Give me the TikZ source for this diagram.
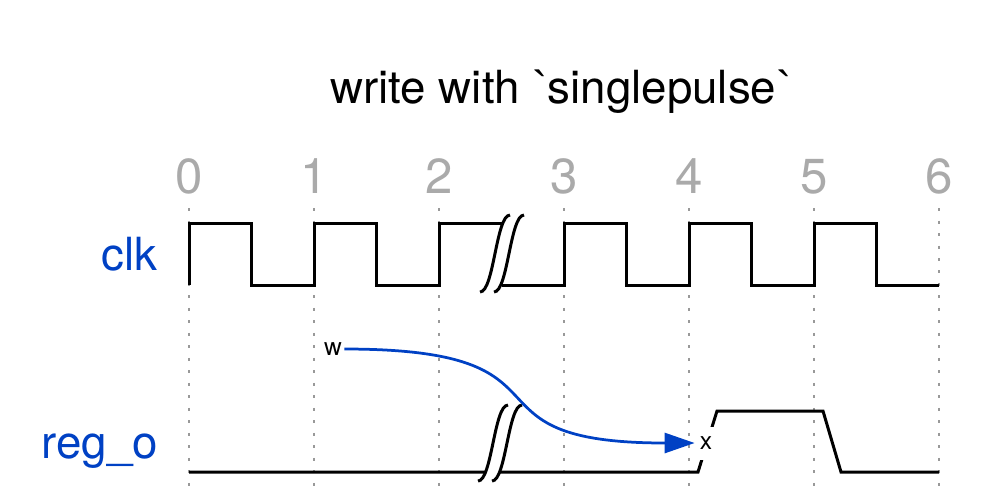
\documentclass[tikz,border=0pt]{standalone}
\usepackage{fontspec}
\setmainfont{TeX Gyre Heros}
\newfontfamily\gravefont{Liberation Sans}
\usetikzlibrary{arrows.meta, calc}

\definecolor{labelblue}{HTML}{0041C4}
\definecolor{tickgray}{HTML}{AAAAAA}
\definecolor{gridgray}{HTML}{999999}

\newcommand\bq{{\gravefont\symbol{96}}}

\tikzset{
	wave/.style = {line width = 0.6mm, line join = miter},
	gapline/.style = {line width = 0.6mm},
	gridline/.style = {gridgray, line width = 0.4mm, dash pattern = on 0.6mm off 1.9mm},
	signame/.style = {labelblue, anchor = base east, font = \fontsize{26}{30}\selectfont},
	ticknum/.style = {tickgray, anchor = base, font = \fontsize{28}{32}\selectfont},
	mark label/.style = {fill = white, inner sep = 0, minimum width = 0.44cm, minimum height = 0.66cm, font = \fontsize{14}{16}\selectfont}
}

\begin{document}
\begin{tikzpicture}[x = 0.02cm, y = -0.02cm]
\useasboundingbox (0, 0) rectangle (1000, 488);

\node[anchor = base, font = \fontsize{26}{30}\selectfont] (title) at (561, 103) {write with \bq singlepulse\bq};

\foreach \n in {0, ..., 6} {
	\node[ticknum] (tick\n) at (189 + 125*\n, 193) {\n};
	\draw[gridline] (189 + 125*\n, 208) -- (189 + 125*\n, 488);
}

\node[signame] (clk) at (164, 270) {clk};
\node[signame] (rego) at (164, 458) {reg\_o};

\draw[wave] (189, 285) -- (189, 223) -- (251.5, 223) -- (251.5, 285) --
	(314, 285) -- (314, 223) -- (376.5, 223) -- (376.5, 285) --
	(439, 285) -- (439, 223) -- (502, 223);
\draw[wave] (502, 285) -- (564, 285) -- (564, 223) -- (626.5, 223) -- (626.5, 285) --
	(689, 285) -- (689, 223) -- (751.5, 223) -- (751.5, 285) --
	(814, 285) -- (814, 223) -- (876.5, 223) -- (876.5, 285) -- (939, 285);

\draw[wave] (189, 472) -- (698, 472) -- (717, 411) -- (823, 411) -- (841, 472) -- (939, 472);

\foreach \xa/\yb/\yt in {480/292/215, 478/481/405} {
	\fill[white] (\xa, \yb) .. controls (\xa + 14, \yb) and (\xa + 16, \yt) ..
		(\xa + 30, \yt) -- (\xa + 44, \yt) .. controls (\xa + 30, \yt) and (\xa + 28, \yb) ..
		(\xa + 14, \yb) -- cycle;
	\draw[gapline] (\xa, \yb) .. controls (\xa + 14, \yb) and (\xa + 16, \yt) .. (\xa + 30, \yt);
	\draw[gapline] (\xa + 14, \yb) .. controls (\xa + 28, \yb) and (\xa + 30, \yt) .. (\xa + 44, \yt);
}

\node[mark label] (w) at (333, 349) {w};
\node[mark label] (x) at (706, 443) {x};
\draw[labelblue, line width = 0.55mm, -{Triangle[length = 0.6cm, width = 0.4cm]}]
	(w.east) .. controls +(247, 0) and +(-247, 0) .. (x.west);
\end{tikzpicture}
\end{document}
